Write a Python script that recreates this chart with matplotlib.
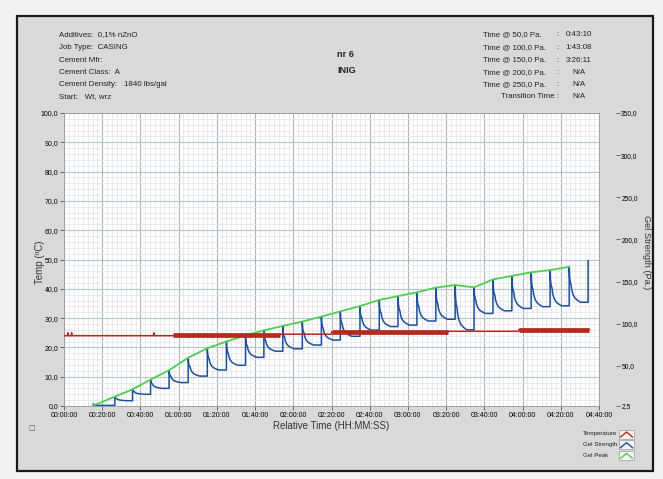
import matplotlib
matplotlib.use("Agg")
import matplotlib.pyplot as plt
from matplotlib.lines import Line2D
from matplotlib.patches import Rectangle
from matplotlib.ticker import FixedLocator, MultipleLocator, FuncFormatter

plt.rcParams['font.family'] = ['Liberation Sans', 'DejaVu Sans']

W, H = 663, 479

# ---- data (time in minutes) ----
header_left = ["Additives:  0,1% nZnO", "Job Type:  CASING", "Cement Mfr:",
               "Cement Class:  A", "Cement Density:", "Start:   Wt, wrz"]
density_value = "1840 lbs/gal"
header_mid = ["nr 6", "INIG"]
time_labels = ["Time @ 50,0 Pa.", "Time @ 100,0 Pa.", "Time @ 150,0 Pa.",
               "Time @ 200,0 Pa.", "Time @ 250,0 Pa."]
time_values = ["0:43:10", "1:43:08", "3:26:11", "N/A", "N/A", "N/A"]

temp_time = [0, 1.8, 2.0, 2.2, 3.8, 4.0, 4.2, 46.8, 47.0, 47.2, 57, 113, 113.1, 140, 140.1,
             201, 201.1, 238, 238.1, 275]
temp_vals = [24.0, 24.0, 25.0, 24.0, 24.0, 25.0, 24.0, 24.0, 25.0, 24.0, 24.0, 24.3, 24.5, 24.5, 25.3,
             25.3, 25.5, 25.5, 26.1, 26.1]
noisy_spans = [(57, 113, 24.3), (140, 201, 25.3), (238, 275, 26.1)]

cycle_time = [26.6, 35.9, 45.3, 55.0, 65.0, 75.0, 85.0, 95.0, 104.6, 114.5, 124.7, 134.7, 144.6,
              154.9, 165.0, 174.8, 184.7, 194.6, 204.7, 214.6, 224.5, 234.4, 244.5, 254.4, 264.4]
peak_pa = [13.6, 22.3, 33.8, 44.9, 59.8, 71.0, 79.0, 86.2, 92.2, 97.4, 102.6, 108.5, 114.7,
           121.0, 128.3, 132.8, 137.3, 142.9, 146.0, 143.2, 152.6, 156.8, 161.0, 163.7, 167.6]
plateau_pa = [8.8, 16.4, 23.4, 30.3, 38.0, 45.2, 50.8, 60.2, 67.5, 70.3, 74.8, 80.7, 85.2,
              92.5, 96.7, 98.4, 103.3, 105.4, 92.9, 112.3, 115.4, 118.2, 120.3, 121.3, 125.5]
gel_start = [(15.3, 5.0), (15.8, 3.2)]
final_spike = (274.3, 174.9)
peak_start = (15.3, 3.0)

# ---- build gel strength trace from the cycle values ----
gx = [p[0] for p in gel_start] + [cycle_time[0]]
gy = [p[1] for p in gel_start] + [gel_start[-1][1]]
decay = [(0.2, 0.72), (0.6, 0.56), (1.0, 0.5), (1.3, 0.36), (2.0, 0.22), (3.0, 0.12),
         (4.5, 0.05), (6.0, 0.0)]
for i, tp in enumerate(cycle_time):
    pk, pl = peak_pa[i], plateau_pa[i]
    gx.append(tp); gy.append(pk)
    for dt, f in decay:
        gx.append(tp + dt); gy.append(pl + f * (pk - pl))
    nxt = cycle_time[i + 1] if i + 1 < len(cycle_time) else final_spike[0]
    gx.append(nxt); gy.append(pl)
gx.append(final_spike[0]); gy.append(final_spike[1])

px_ = [peak_start[0]] + cycle_time
py_ = [peak_start[1]] + peak_pa

# ---- figure ----
fig = plt.figure(figsize=(W / 100, H / 100), dpi=100, facecolor="#f2f2f2")
fig.add_artist(Rectangle((17 / W, 1 - 471 / H), 636 / W, 455 / H, transform=fig.transFigure,
                         facecolor="#d9d9d9", edgecolor="#1a1a1a", lw=1.6, zorder=0))

def fpx(x, y):
    return x / W, 1 - y / H

ax = fig.add_axes([64 / W, 1 - 406 / H, 535 / W, 293 / H])
ax.set_facecolor("white")
ax.set_xlim(0, 280)
ax.set_ylim(0, 100)
ax.xaxis.set_major_locator(MultipleLocator(20))
ax.xaxis.set_minor_locator(MultipleLocator(2.5))
ax.yaxis.set_major_locator(MultipleLocator(10))
ax.yaxis.set_minor_locator(MultipleLocator(2))
ax.grid(which="minor", color="#e4e8ee", lw=0.6)
ax.grid(which="major", axis="y", color="#b3c3d4", lw=0.8)
ax.grid(which="major", axis="x", color="#b0b0b0", lw=0.8)
ax.set_axisbelow(True)
ax.xaxis.set_major_formatter(FuncFormatter(lambda v, p: "%02d:%02d:00" % (v // 60, v % 60)))
ax.yaxis.set_major_formatter(FuncFormatter(lambda v, p: ("%.1f" % v).replace(".", ",")))
ax.tick_params(which="major", length=3, width=0.6, color="#555555", labelsize=5.0, pad=1)
ax.tick_params(which="minor", length=0)
for s in ax.spines.values():
    s.set_color("#9a9a9a"); s.set_linewidth(0.6)
ax.set_xlabel("Relative Time (HH:MM:SS)", fontsize=7, color="#333333", labelpad=2)
fig.text(*fpx(40, 262), "Temp (ºC)", fontsize=7, color="#333333", rotation=90,
         ha="center", va="center")

ax2 = ax.twinx()
ax2.set_ylim(2.5, 350)
ax2.yaxis.set_major_locator(FixedLocator([2.5, 50, 100, 150, 200, 250, 300, 350]))
ax2.yaxis.set_major_formatter(FuncFormatter(lambda v, p: ("%.1f" % v).replace(".", ",") if v > 3 else "2,5"))
ax2.spines["right"].set_position(("outward", 12))
for s in ax2.spines.values():
    s.set_visible(False)
ax2.tick_params(length=3, width=0.6, color="#555555", labelsize=4.8, pad=1)
fig.text(*fpx(646, 252), "Gel Strength (Pa.)", fontsize=6.6, color="#333333", rotation=-90,
         ha="center", va="center")
ax2.plot(gx, gy, color="#1f4f9c", lw=1.1, zorder=2)
ax2.plot(px_, py_, color="#4ccf4c", lw=1.3, zorder=3)

ax3 = ax.twinx()
ax3.set_ylim(0, 100)
ax3.axis("off")
ax3.plot(temp_time, temp_vals, color="#b52a1c", lw=1.1)
for t0, t1, v in noisy_spans:
    ax3.plot([t0, t1], [v, v], color="#b52a1c", lw=3.4, solid_capstyle="butt")

# ---- header ----
hs = 5.7
ys = [35, 47.5, 60, 72.3, 84.5, 96.8]
for txt, y in zip(header_left, ys):
    fig.text(*fpx(59, y), txt, fontsize=hs, va="center", color="#222222")
fig.text(*fpx(124, ys[4]), density_value, fontsize=hs, va="center", color="#222222")
fig.text(*fpx(337, 54.5), header_mid[0], fontsize=6.6, va="center", weight="bold", color="#222222")
fig.text(*fpx(337, 70.5), header_mid[1], fontsize=6.6, va="center", weight="bold", color="#222222")
for i, y in enumerate(ys):
    if i < len(time_labels):
        fig.text(*fpx(483, y), time_labels[i], fontsize=hs, va="center", color="#222222")
        fig.text(*fpx(557, y), ":", fontsize=hs, va="center", ha="center", color="#222222")
    else:
        fig.text(*fpx(559, y), "Transition Time :", fontsize=hs, va="center", ha="right", color="#222222")
    fig.text(*fpx(579, y), time_values[i], fontsize=hs, va="center", ha="center", color="#222222")

fig.text(*fpx(32, 428), "□", fontsize=5, va="center", ha="center", color="#555555",
         family="DejaVu Sans")

# ---- legend ----
leg = [("Temperature", "#b52a1c"), ("Gel Strength", "#1f4f9c"), ("Gel Peak", "#4ccf4c")]
for i, (name, c) in enumerate(leg):
    y = 434 + i * 10.7
    fig.text(*fpx(583, y), name, fontsize=4.4, va="center", color="#222222")
    x0, y0 = fpx(619, y + 4.5)
    fig.add_artist(Rectangle((x0, y0), 15 / W, 9 / H, transform=fig.transFigure,
                             facecolor="#f4f4f4", edgecolor="#9a9a9a", lw=0.5))
    xa, ya = fpx(620.5, y + 3)
    xb, yb = fpx(626.5, y - 2)
    xc, yc = fpx(632.5, y + 3)
    fig.add_artist(Line2D([xa, xb, xc], [ya, yb, yc], transform=fig.transFigure, color=c, lw=1.0))

fig.savefig("out.png", dpi=100, facecolor=fig.get_facecolor())
